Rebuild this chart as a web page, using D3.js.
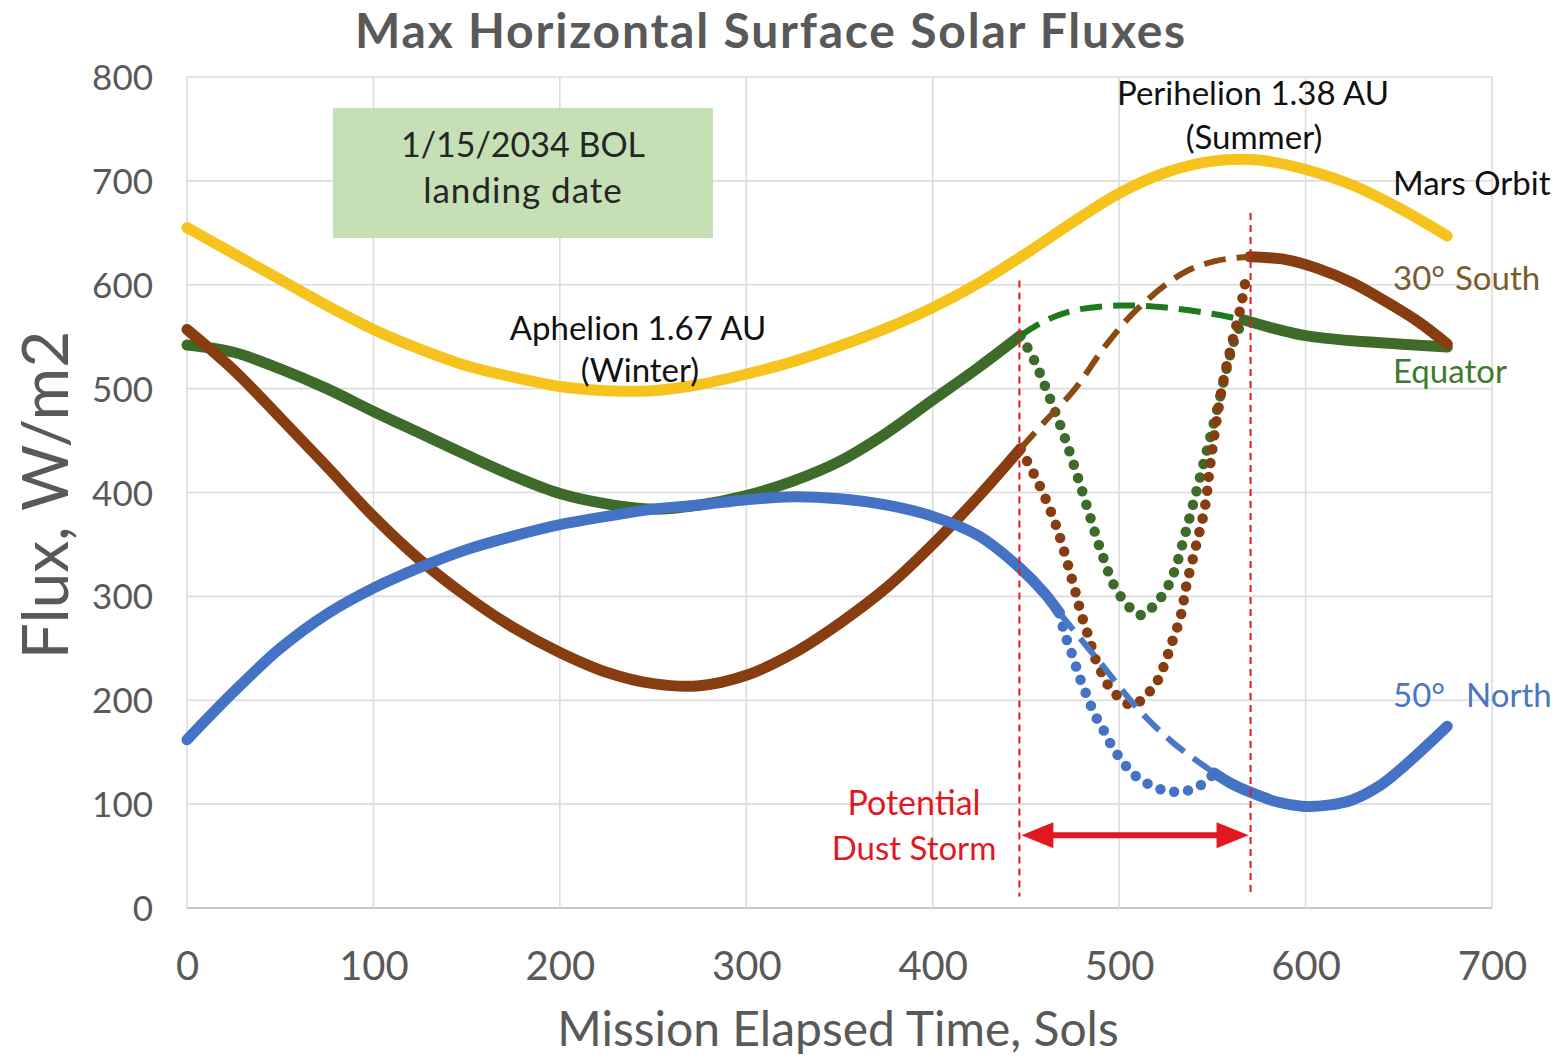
<!DOCTYPE html>
<html><head><meta charset="utf-8">
<script src="https://cdn.jsdelivr.net/npm/d3@7"></script>
<style>
html,body{margin:0;padding:0;background:#fff;}
svg{display:block;font-family:Lato,'Open Sans',sans-serif;}
</style></head><body>
<svg id="chart" width="1560" height="1057"></svg>
<script>
// ---- data (sols, W/m2) ----
const xTicks = [0,100,200,300,400,500,600,700];
const yTicks = [0,100,200,300,400,500,600,700,800];

const marsOrbit = [[0,655],[25,630],[50,605],[75,580],[100,557],[125,538],[150,522],[175,511],[200,502],[225,498],[250,498],[275,504],[300,514],[325,526],[350,541],[375,558],[400,578],[425,602],[450,630],[475,660],[500,688],[525,708],[550,719],[575,720],[600,711],[625,696],[650,674],[676,647]];

const equatorPre = [[0,542],[25,535],[50,519],[75,500],[100,478],[125,457],[150,436],[175,416],[200,399],[225,389],[250,384],[275,388],[300,397],[325,411],[350,430],[375,457],[400,489],[425,521],[447,551]];
const equatorClear = [[447,551],[460,565],[475,575],[500,580],[525,578],[550,572],[567,566]];
const equatorStorm = [[447,551],[454,529],[461,499],[469,462],[476,425],[483,385],[490,345],[498,308],[507,287],[512,282],[518,290],[524,303],[529,321],[536,364],[543,412],[548,447],[553,483],[558,522],[563,553],[567,566]];
const equatorPost = [[567,566],[585,557],[600,551],[625,546],[650,543],[676,540]];

const southPre = [[0,557],[25,518],[50,472],[75,425],[100,377],[125,335],[150,300],[175,270],[200,246],[225,227],[250,216],[275,214],[300,224],[325,245],[350,274],[375,308],[400,350],[425,397],[447,442]];
const southClear = [[447,442],[460,468],[476,499],[493,542],[510,577],[534,611],[552,623],[570,627]];
const southStorm = [[447,442],[457,408],[466,369],[476,308],[480,281],[484,259],[487,241],[491,225],[495,212],[500,203],[507,195],[514,204],[520,217],[524,233],[528,254],[533,281],[536,310],[541,347],[546,386],[549,429],[555,499],[560,540],[565,577],[568,606]];
const southPost = [[570,627],[590,624],[606,616],[625,602],[642,585],[660,565],[676,543]];

const northPre = [[0,162],[25,208],[50,250],[75,283],[100,308],[125,328],[150,345],[175,358],[200,369],[225,377],[250,384],[275,388],[300,393],[325,396],[350,394],[375,388],[400,377],[425,358],[447,327],[460,303],[468,284]];
const northClear = [[468,284],[489,238],[511,190],[529,159],[551,130]];
const northStorm = [[468,284],[471,263],[475,243],[479,221],[483,203],[487,186],[492,170],[496,156],[501,143],[507,130],[516,119],[525,113],[533,112],[540,115],[546,121],[551,130]];
const northPost = [[551,130],[560,120],[571,111],[585,102],[598,98],[612,99],[625,104],[640,118],[655,140],[676,175]];

const stormStart = 446.5, stormEnd = 570.5;
const stormLineTop = [604, 669];

// ---- layout ----
const svg = d3.select('#chart');
const x = d3.scaleLinear().domain([0,700]).range([187,1492]);
const y = d3.scaleLinear().domain([0,800]).range([908,77]);

// grid
const grid = svg.append('g');
grid.selectAll('line.h').data(yTicks).join('line')
  .attr('x1',x(0)).attr('x2',x(700)).attr('y1',d=>y(d)).attr('y2',d=>y(d))
  .attr('stroke',d=>d===0?'#c8c8c8':'#dcdcdc').attr('stroke-width',d=>d===0?2:1.6);
grid.selectAll('line.v').data(xTicks).join('line')
  .attr('y1',y(0)).attr('y2',y(800)).attr('x1',d=>x(d)).attr('x2',d=>x(d))
  .attr('stroke','#dcdcdc').attr('stroke-width',1.6);

// axes labels via d3 axes
const yAxis = svg.append('g').attr('transform',`translate(${x(0)},0)`)
  .call(d3.axisLeft(y).tickValues(yTicks).tickSize(0).tickPadding(34).tickFormat(d3.format('d')));
yAxis.select('.domain').remove();
yAxis.selectAll('text').attr('font-size',35).attr('fill','#595959').attr('font-family','Lato,sans-serif').attr('dy','0.36em');

const xAxis = svg.append('g').attr('transform',`translate(0,${y(0)})`)
  .call(d3.axisBottom(x).tickValues(xTicks).tickSize(0).tickPadding(44).tickFormat(d3.format('d')));
xAxis.select('.domain').remove();
xAxis.selectAll('text').attr('font-size',40).attr('fill','#595959').attr('font-family','Lato,sans-serif');

// title & axis titles
svg.append('text').attr('x',771).attr('y',48).attr('text-anchor','middle')
  .attr('font-size',48).attr('font-weight','bold').attr('fill','#595959').attr('letter-spacing',1.8)
  .text('Max Horizontal Surface Solar Fluxes');
svg.append('text').attr('transform','translate(68,495) rotate(-90)').attr('text-anchor','middle')
  .attr('font-size',64).attr('fill','#595959').text('Flux, W/m2');
svg.append('text').attr('x',838).attr('y',1046).attr('text-anchor','middle')
  .attr('font-size',48).attr('fill','#595959').text('Mission Elapsed Time, Sols');

// landing date box
svg.append('rect').attr('x',333).attr('y',108).attr('width',380).attr('height',130).attr('fill','#c5e0b4');
svg.append('text').attr('x',523).attr('y',157).attr('text-anchor','middle').attr('font-size',34).attr('fill','#262626').text('1/15/2034 BOL');
svg.append('text').attr('x',523).attr('y',203).attr('text-anchor','middle').attr('font-size',35).attr('fill','#262626').attr('letter-spacing',1).text('landing date');

// line generators
const line = d3.line().x(d=>x(d[0])).y(d=>y(d[1])).curve(d3.curveCatmullRom.alpha(0.5));

const cYellow='#f6c21c', cBrown='#873d10', cGreen='#3e6a2a', cBlue='#4472c4';
const lines = svg.append('g').attr('fill','none').attr('stroke-linecap','round').attr('stroke-linejoin','round');
function solid(data,color){ lines.append('path').attr('d',line(data)).attr('stroke',color).attr('stroke-width',11); }
function dashed(data,color){ lines.append('path').attr('d',line(data)).attr('stroke',color).attr('stroke-width',6).attr('stroke-linecap','butt').attr('stroke-dasharray','22 11'); }
function dotted(data,color){ lines.append('path').attr('d',line(data)).attr('stroke',color).attr('stroke-width',10.5).attr('stroke-dasharray','0 14'); }

solid(marsOrbit,cYellow);
solid(equatorPre,cGreen); solid(equatorPost,cGreen);
dotted(equatorStorm,cGreen);
solid(southPre,cBrown); solid(southPost,cBrown);
dotted(southStorm,cBrown);
solid(northPre,cBlue); solid(northPost,cBlue);
dotted(northStorm,cBlue);
dashed(equatorClear,'#1f7a1f');
dashed(southClear,'#8a4a12');
dashed(northClear,'#4a78c8');

// storm markers
const red='#e3171f';
[[stormStart,stormLineTop[0]],[stormEnd,stormLineTop[1]]].forEach(([s,top])=>{
  svg.append('line').attr('x1',x(s)).attr('x2',x(s)).attr('y1',y(top)).attr('y2',y(11))
    .attr('stroke',red).attr('stroke-width',2).attr('stroke-dasharray','7 5');
});
const ay = y(70), ax1 = x(stormStart), ax2 = x(stormEnd);
svg.append('line').attr('x1',ax1+20).attr('x2',ax2-20).attr('y1',ay).attr('y2',ay).attr('stroke',red).attr('stroke-width',6);
svg.append('path').attr('d',`M${ax1+2},${ay} L${ax1+34},${ay-13} L${ax1+34},${ay+13} Z`).attr('fill',red);
svg.append('path').attr('d',`M${ax2-2},${ay} L${ax2-34},${ay-13} L${ax2-34},${ay+13} Z`).attr('fill',red);
svg.append('text').attr('x',914).attr('y',815).attr('text-anchor','middle').attr('font-size',34).attr('fill',red).text('Potential');
svg.append('text').attr('x',914).attr('y',860).attr('text-anchor','middle').attr('font-size',33).attr('fill',red).text('Dust Storm');

// annotations
const ann = svg.append('g').attr('font-size',33);
ann.append('text').attr('x',638).attr('y',340).attr('text-anchor','middle').attr('fill','#111').text('Aphelion 1.67 AU');
ann.append('text').attr('x',640).attr('y',382).attr('text-anchor','middle').attr('fill','#111').text('(Winter)');
ann.append('text').attr('x',1253).attr('y',105).attr('text-anchor','middle').attr('fill','#111').text('Perihelion 1.38 AU');
ann.append('text').attr('x',1254).attr('y',149).attr('text-anchor','middle').attr('fill','#111').text('(Summer)');
ann.append('text').attr('x',1393).attr('y',195).attr('fill','#111').text('Mars Orbit');
const s30 = ann.append('text').attr('y',290).attr('fill','#7b5a2c');
s30.append('tspan').attr('x',1393).text('30°');
s30.append('tspan').attr('x',1455).text('South');
ann.append('text').attr('x',1393).attr('y',383).attr('fill','#3f7a2c').text('Equator');
const n50 = ann.append('text').attr('y',707).attr('fill','#4d76c0');
n50.append('tspan').attr('x',1393).text('50°');
n50.append('tspan').attr('x',1466).text('North');
</script>
</body></html>
